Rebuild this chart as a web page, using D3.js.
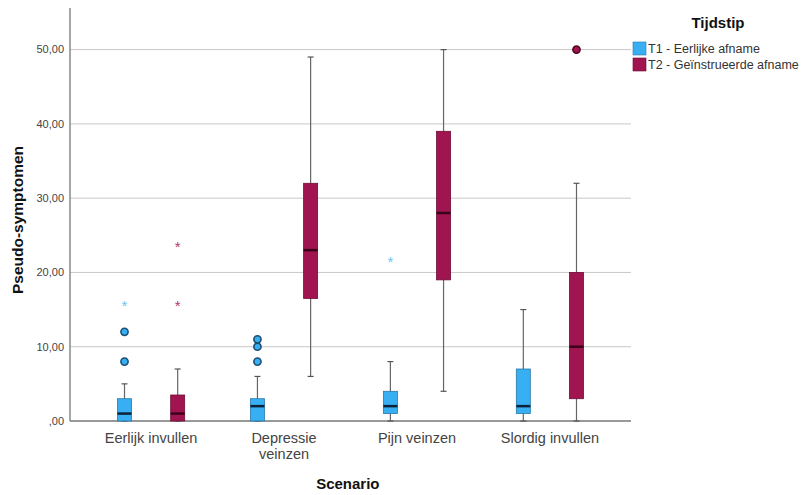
<!DOCTYPE html>
<html>
<head>
<meta charset="utf-8">
<script src="https://cdn.jsdelivr.net/npm/d3@7"></script>
<style>
  body { margin: 0; background: #fff; }
  text { font-family: Arial, "Liberation Sans", sans-serif; }
</style>
</head>
<body>
<div id="chart"></div>
<script>
// categories and series
var scenarios = ['Eerlijk invullen', 'Depressie veinzen', 'Pijn veinzen', 'Slordig invullen'];
var tijdstippen = ['T1 - Eerlijke afname', 'T2 - Geïnstrueerde afname'];
var y_ticks = [0, 10, 20, 30, 40, 50];

// box stats per scenario: [low whisker, q1, median, q3, high whisker]
var t1_stats = [[0, 0, 1, 3, 5], [0, 0, 2, 3, 6], [0, 1, 2, 4, 8], [0, 1, 2, 7, 15]];
var t2_stats = [[0, 0, 1, 3.5, 7], [6, 16.5, 23, 32, 49], [4, 19, 28, 39, 50], [0, 3, 10, 20, 32]];
// outliers (circles) and extremes (stars)
var t1_circles = [[8, 12], [8, 10, 11], [], []];
var t2_circles = [[], [], [], [50]];
var t1_stars = [[16], [], [22], []];
var t2_stars = [[16, 24], [], [], []];

var colors = ['#38aff2', '#a0144f'];
var strokes = ['#2878a8', '#6e0d36'];

var total_width = 802, total_height = 495;
var margin = {top: 8, left: 70, right: 171, bottom: 74};
var plot_w = total_width - margin.left - margin.right;
var plot_h = total_height - margin.top - margin.bottom;

var svg = d3.select('#chart').append('svg')
    .attr('width', total_width)
    .attr('height', total_height);

var g = svg.append('g')
    .attr('transform', 'translate(' + margin.left + ',' + margin.top + ')');

var y = d3.scaleLinear().domain([0, 55.6]).range([plot_h, 0]);
var x = d3.scaleBand().domain(scenarios).range([0, plot_w]).paddingOuter(0.11).paddingInner(0);
var x_sub = d3.scalePoint().domain(tijdstippen).range([0, x.bandwidth()]).padding(0.75);
var box_w = 14;

// gridlines
g.append('g').selectAll('line')
    .data(y_ticks.filter(function(d) { return d > 0; }))
    .enter().append('line')
    .attr('x1', 0).attr('x2', plot_w)
    .attr('y1', function(d) { return y(d); })
    .attr('y2', function(d) { return y(d); })
    .attr('stroke', '#c8c8c8').attr('stroke-width', 1);

// y axis labels
g.append('g').selectAll('text')
    .data(y_ticks)
    .enter().append('text')
    .attr('x', -6)
    .attr('y', function(d) { return y(d); })
    .attr('dy', '0.35em')
    .attr('text-anchor', 'end')
    .attr('font-size', 11)
    .attr('fill', '#444')
    .text(function(d) { return d === 0 ? ',00' : d + ',00'; });

// axis lines
g.append('line').attr('x1', 0).attr('x2', 0).attr('y1', 0).attr('y2', plot_h)
    .attr('stroke', '#777').attr('stroke-width', 1.3);
g.append('line').attr('x1', 0).attr('x2', plot_w).attr('y1', plot_h).attr('y2', plot_h)
    .attr('stroke', '#777').attr('stroke-width', 1.3);

var series = [
    {stats: t1_stats, circles: t1_circles, stars: t1_stars},
    {stats: t2_stats, circles: t2_circles, stars: t2_stars}
];

series.forEach(function(s, si) {
    var grp = g.append('g').attr('class', 'series-' + si);
    scenarios.forEach(function(sc, ci) {
        var st = s.stats[ci];
        var cx = x(sc) + x_sub(tijdstippen[si]);
        // whiskers
        grp.append('line')
            .attr('x1', cx).attr('x2', cx)
            .attr('y1', y(st[0])).attr('y2', y(st[4]))
            .attr('stroke', '#666').attr('stroke-width', 1.2);
        [st[0], st[4]].forEach(function(v) {
            grp.append('line')
                .attr('x1', cx - 3).attr('x2', cx + 3)
                .attr('y1', y(v)).attr('y2', y(v))
                .attr('stroke', '#555').attr('stroke-width', 1.2);
        });
        // box
        grp.append('rect')
            .attr('x', cx - box_w / 2)
            .attr('y', y(st[3]))
            .attr('width', box_w)
            .attr('height', Math.max(1, y(st[1]) - y(st[3])))
            .attr('fill', colors[si])
            .attr('stroke', strokes[si]).attr('stroke-width', 0.8);
        // median
        grp.append('line')
            .attr('x1', cx - box_w / 2).attr('x2', cx + box_w / 2)
            .attr('y1', y(st[2])).attr('y2', y(st[2]))
            .attr('stroke', si === 0 ? '#0c2238' : '#3a0418').attr('stroke-width', 2.5);
        // outliers
        s.circles[ci].forEach(function(v) {
            grp.append('circle')
                .attr('cx', cx).attr('cy', y(v)).attr('r', 3.6)
                .attr('fill', colors[si])
                .attr('stroke', si === 0 ? '#1d4f73' : '#4a0820').attr('stroke-width', 1.6);
        });
        s.stars[ci].forEach(function(v) {
            grp.append('text')
                .attr('x', cx).attr('y', y(v))
                .attr('dy', '0.6em')
                .attr('text-anchor', 'middle')
                .attr('font-size', 15)
                .attr('fill', si === 0 ? '#6cc3f5' : '#b03a68')
                .text('*');
        });
    });
});

// category labels
g.append('g').selectAll('text')
    .data(scenarios)
    .enter().append('text')
    .attr('x', function(d) { return x(d) + x.bandwidth() / 2; })
    .attr('y', plot_h + 22)
    .attr('text-anchor', 'middle')
    .attr('font-size', 14.5)
    .attr('fill', '#444')
    .each(function(d) {
        var t = d3.select(this);
        var lines = d === 'Depressie veinzen' ? ['Depressie', 'veinzen'] : [d];
        lines.forEach(function(l, i) {
            t.append('tspan')
                .attr('x', x(d) + x.bandwidth() / 2)
                .attr('dy', i === 0 ? 0 : 16)
                .text(l);
        });
    });

// axis titles
svg.append('text')
    .attr('x', margin.left + x('Depressie veinzen') + x.bandwidth() * 0.98)
    .attr('y', 489)
    .attr('text-anchor', 'middle')
    .attr('font-size', 15)
    .attr('font-weight', 'bold')
    .attr('fill', '#111')
    .text('Scenario');

svg.append('text')
    .attr('transform', 'translate(23,' + 220 + ') rotate(-90)')
    .attr('text-anchor', 'middle')
    .attr('font-size', 15.5)
    .attr('font-weight', 'bold')
    .attr('fill', '#111')
    .text('Pseudo-symptomen');

// legend
var legend = svg.append('g').attr('transform', 'translate(633,0)');
legend.append('text')
    .attr('x', 85).attr('y', 28)
    .attr('text-anchor', 'middle')
    .attr('font-size', 15)
    .attr('font-weight', 'bold')
    .attr('fill', '#111')
    .text('Tijdstip');
tijdstippen.forEach(function(t, i) {
    legend.append('rect')
        .attr('x', 0).attr('y', 42 + i * 16)
        .attr('width', 13).attr('height', 13)
        .attr('fill', colors[i])
        .attr('stroke', strokes[i]).attr('stroke-width', 0.6);
    legend.append('text')
        .attr('x', 15).attr('y', 49 + i * 16)
        .attr('dy', '0.35em')
        .attr('font-size', 12.5)
        .attr('fill', '#333')
        .text(t);
});
</script>
</body>
</html>
